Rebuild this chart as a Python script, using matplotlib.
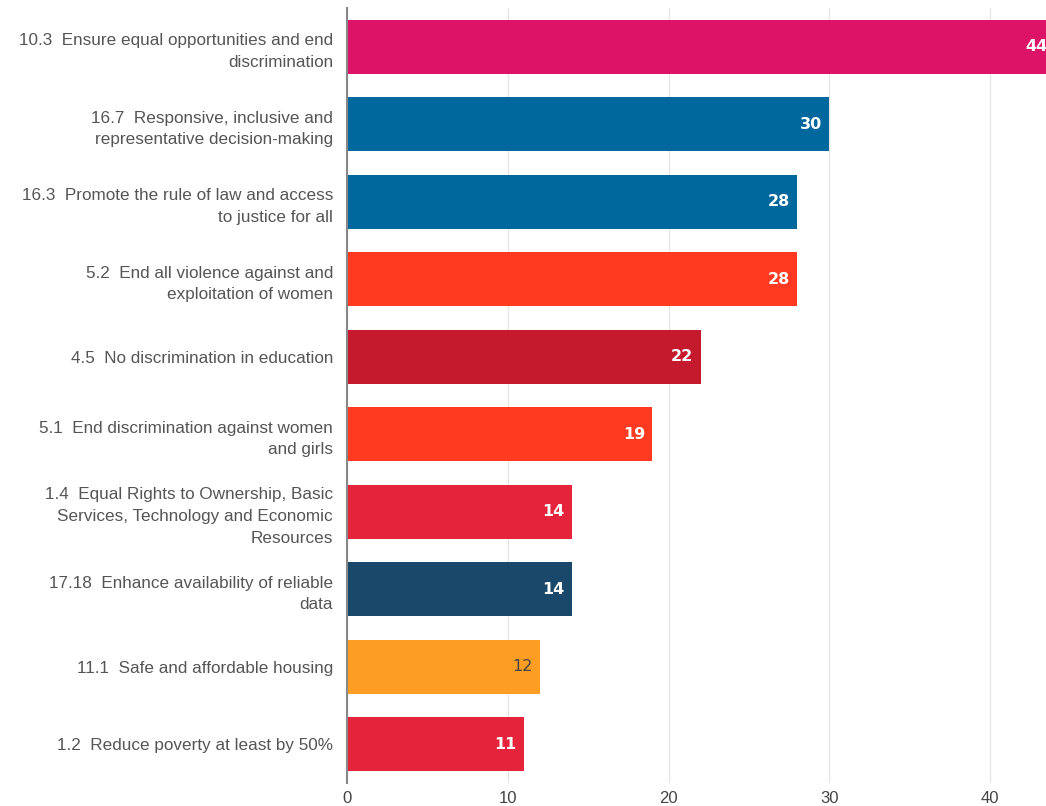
import matplotlib.pyplot as plt

labels = [
    "10.3  Ensure equal opportunities and end\ndiscrimination",
    "16.7  Responsive, inclusive and\nrepresentative decision-making",
    "16.3  Promote the rule of law and access\nto justice for all",
    "5.2  End all violence against and\nexploitation of women",
    "4.5  No discrimination in education",
    "5.1  End discrimination against women\nand girls",
    "1.4  Equal Rights to Ownership, Basic\nServices, Technology and Economic\nResources",
    "17.18  Enhance availability of reliable\ndata",
    "11.1  Safe and affordable housing",
    "1.2  Reduce poverty at least by 50%",
]
values = [44, 30, 28, 28, 22, 19, 14, 14, 12, 11]
colors = ["#DD1367", "#00689D", "#00689D", "#FF3A21", "#C5192D",
          "#FF3A21", "#E5243B", "#19486A", "#FD9D24", "#E5243B"]
label_colors = ["white"] * 8 + ["#444444", "white"]

plt.rcParams['font.family'] = ['Liberation Sans', 'DejaVu Sans']

fig = plt.figure(figsize=(10.46, 8.06), dpi=100)
ax = fig.add_axes([0.3317, 0.0285, 0.6683, 0.9615])

y = list(range(len(values)))
ax.barh(y, values, height=0.7, color=colors, zorder=2)
ax.set_ylim(len(values) - 0.5, -0.5)
ax.set_xlim(0, 43.48)

for i, v in enumerate(values):
    ax.text(v - 0.45, i, str(v), ha='right', va='center', fontsize=11.5,
            fontweight='bold' if label_colors[i] == 'white' else 'normal',
            color=label_colors[i], family='DejaVu Sans', clip_on=True, zorder=3)

ax.set_yticks(y)
ax.set_yticklabels(labels, fontsize=12.3, color='#555555', linespacing=1.55)
ax.tick_params(axis='y', length=0, pad=10)
ax.set_xticks([0, 10, 20, 30, 40])
ax.tick_params(axis='x', length=0, labelsize=12, colors='#444444', pad=6)
ax.grid(axis='x', color='#e6e6e6', linewidth=1, zorder=0)

for s in ['top', 'right', 'bottom']:
    ax.spines[s].set_visible(False)
ax.spines['left'].set_color('#888888')
ax.spines['left'].set_linewidth(1.5)
ax.spines['left'].set_zorder(4)

fig.savefig('out.png', dpi=100)
